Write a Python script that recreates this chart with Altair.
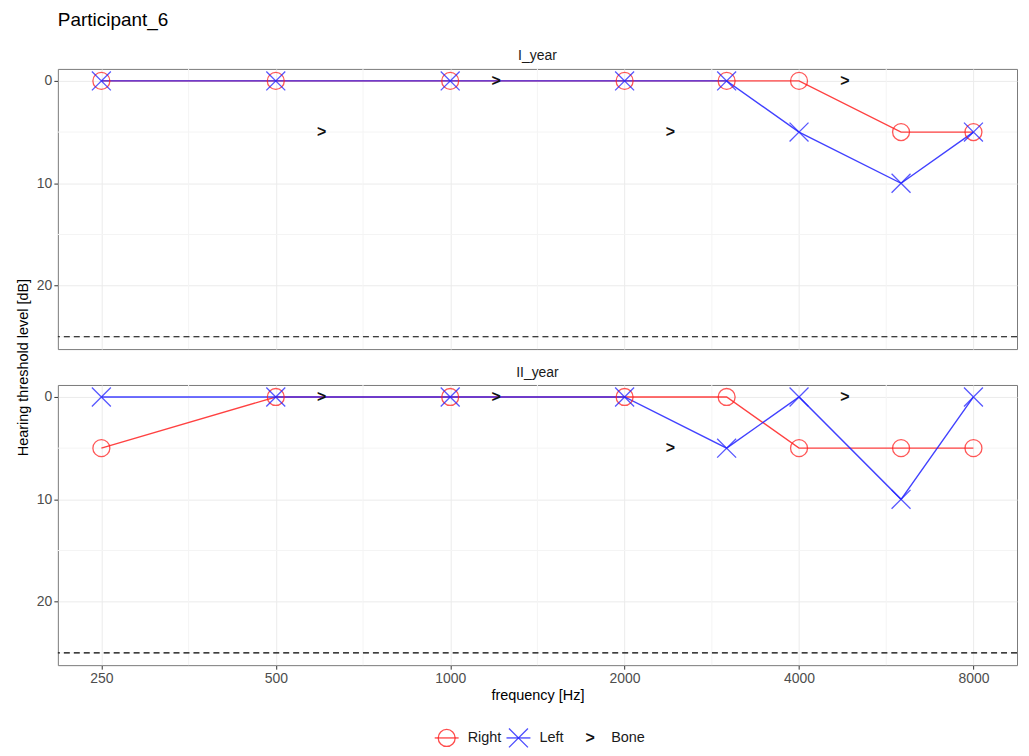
import altair as alt
import pandas as pd

freqs = [250, 500, 1000, 2000, 3000, 4000, 6000, 8000]
right_I = [0, 0, 0, 0, 0, 0, 5, 5]
left_I = [0, 0, 0, 0, 0, 5, 10, 5]
right_II = [5, 0, 0, 0, 0, 5, 5, 5]
left_II = [0, 0, 0, 0, 5, 0, 10, 0]
bone_freqs = [500, 1000, 2000, 4000]
bone_I = [5, 0, 5, 0]
bone_II = [0, 0, 5, 0]
tick_freqs = [250, 500, 1000, 2000, 4000, 8000]
minor_freqs = [353.6, 707.1, 1414.2, 2828.4, 5656.9]
y_ticks = [0, 10, 20]
y_minor = [5, 15, 25]
threshold = 25
leg_labels = ["Right", "Left", "Bone"]
leg_colors = ["#ff2020", "#2020ff", "#000000"]

FONT = "Liberation Sans"
W, H = 962, 281
GAP = 36
TICK_FS = 14
TITLE_FS = 14.5
x_scale = alt.Scale(type="log", base=2, domain=[210.3, 9512], nice=False)
y_scale = alt.Scale(domain=[-1.17, 26.2], reverse=True, nice=False, zero=False)
col_scale = alt.Scale(domain=["Right", "Left"], range=leg_colors[:2])
X_PATH = "M-1,-1L1,1M-1,1L1,-1"


def panel(title, right, left, bone, show_x, show_ytitle):
    ears = pd.DataFrame({
        "freq": freqs * 2,
        "db": right + left,
        "ear": ["Right"] * len(freqs) + ["Left"] * len(freqs),
    })
    bones = pd.DataFrame({"freq": bone_freqs, "db": bone, "sym": [">"] * len(bone)})
    vminor = pd.DataFrame({"freq": minor_freqs})
    hminor = pd.DataFrame({"db": y_minor})
    thr = pd.DataFrame({"db": [threshold]})

    if show_x:
        xaxis = alt.Axis(values=tick_freqs, format="d", title="frequency [Hz]",
                         grid=True, gridColor="#EBEBEB", domain=False,
                         tickColor="#333333", tickSize=4, labelPadding=2,
                         labelColor="#4d4d4d", labelFontSize=TICK_FS, titleFontSize=TITLE_FS,
                         titleFontWeight="normal", titleColor="#000000", titlePadding=3)
    else:
        xaxis = alt.Axis(values=tick_freqs, labels=False, ticks=False, domain=False,
                         title=None, grid=True, gridColor="#EBEBEB")
    yaxis = alt.Axis(values=y_ticks, grid=True, gridColor="#EBEBEB", domain=False,
                     tickColor="#333333", tickSize=4, labelPadding=2,
                     labelColor="#4d4d4d", labelFontSize=TICK_FS,
                     title="Hearing threshold level [dB]" if show_ytitle else None,
                     titleFontSize=TITLE_FS, titleFontWeight="normal", titleColor="#000000",
                     titlePadding=6, titleY=H + GAP / 2)

    vgrid = alt.Chart(vminor).mark_rule(color="#F4F4F4", strokeWidth=1).encode(
        x=alt.X("freq:Q", scale=x_scale, axis=xaxis))
    hgrid = alt.Chart(hminor).mark_rule(color="#F4F4F4", strokeWidth=1).encode(
        y=alt.Y("db:Q", scale=y_scale, axis=yaxis))
    dash = alt.Chart(thr).mark_rule(color="#000000", strokeDash=[6, 4], strokeWidth=1.1).encode(
        y=alt.Y("db:Q", scale=y_scale))
    lines = alt.Chart(ears).mark_line(strokeWidth=1.4, opacity=0.85).encode(
        x=alt.X("freq:Q", scale=x_scale),
        y=alt.Y("db:Q", scale=y_scale),
        color=alt.Color("ear:N", scale=col_scale, legend=None),
        detail="ear:N",
    )
    circles = alt.Chart(ears).transform_filter("datum.ear == 'Right'").mark_point(
        shape="circle", size=289, filled=False, strokeWidth=1.3, opacity=0.75).encode(
        x=alt.X("freq:Q", scale=x_scale),
        y=alt.Y("db:Q", scale=y_scale),
        color=alt.Color("ear:N", scale=col_scale, legend=None),
    )
    crosses = alt.Chart(ears).transform_filter("datum.ear == 'Left'").mark_point(
        shape=X_PATH, size=361, filled=False, strokeWidth=1.3, opacity=0.75).encode(
        x=alt.X("freq:Q", scale=x_scale),
        y=alt.Y("db:Q", scale=y_scale),
        color=alt.Color("ear:N", scale=col_scale, legend=None),
    )
    bone_marks = alt.Chart(bones).mark_text(
        fontSize=16, fontWeight="bold", dx=46, dy=0, color="#111111", font=FONT,
        baseline="middle").encode(
        x=alt.X("freq:Q", scale=x_scale),
        y=alt.Y("db:Q", scale=y_scale),
        text="sym:N",
    )
    return alt.layer(vgrid, hgrid, dash, lines, circles, crosses, bone_marks).properties(
        width=W, height=H,
        title=alt.TitleParams(title, fontSize=TICK_FS, fontWeight="normal", anchor="middle",
                              offset=5, color="#1a1a1a", font=FONT),
        view=alt.ViewBackground(stroke="#7a7a7a", strokeWidth=1),
    )


p1 = panel("I_year", right_I, left_I, bone_I, False, True)
p2 = panel("II_year", right_II, left_II, bone_II, True, False)

# manual legend
LDY = 22
leg = pd.DataFrame({"label": leg_labels})
lx = alt.X("label:N", scale=alt.Scale(type="point", domain=leg_labels, padding=0.806, align=0.336),
           axis=None)
lcol = alt.Color("label:N", scale=alt.Scale(domain=leg_labels, range=leg_colors), legend=None)
bar = alt.Chart(leg).transform_filter("datum.label != 'Bone'").mark_point(
    shape="M-1,0L1,0", size=576, filled=False, strokeWidth=1.3, opacity=0.85,
    yOffset=LDY).encode(x=lx, color=lcol)
lc = alt.Chart(leg).transform_filter("datum.label == 'Right'").mark_point(
    shape="circle", size=289, filled=False, strokeWidth=1.3, opacity=0.8,
    yOffset=LDY).encode(x=lx, color=lcol)
lxm = alt.Chart(leg).transform_filter("datum.label == 'Left'").mark_point(
    shape=X_PATH, size=361, filled=False, strokeWidth=1.3, opacity=0.8,
    yOffset=LDY).encode(x=lx, color=lcol)
lb = alt.Chart(leg).transform_filter("datum.label == 'Bone'").mark_text(
    text=">", fontSize=16, fontWeight="bold", color="#111111", font=FONT, baseline="middle",
    dy=LDY).encode(x=lx)
ltxt = alt.Chart(leg).mark_text(align="left", dx=21, dy=LDY, fontSize=TITLE_FS, color="#1a1a1a",
                                font=FONT, baseline="middle").encode(x=lx, text="label:N")
legend = alt.layer(bar, lc, lxm, lb, ltxt).properties(
    width=260, height=30, view=alt.ViewBackground(stroke="transparent"))

chart = alt.vconcat(p1, p2, legend, spacing=GAP, center=True, bounds="flush").properties(
    title=alt.TitleParams("Participant_6", fontSize=19, fontWeight="normal", anchor="start",
                          font=FONT, color="#000000", offset=19, frame="group"),
    padding={"left": 6, "top": 2, "right": 2, "bottom": 0},
).configure(font=FONT)

chart.save("out.html", embed_options={"renderer": "svg", "actions": False})
